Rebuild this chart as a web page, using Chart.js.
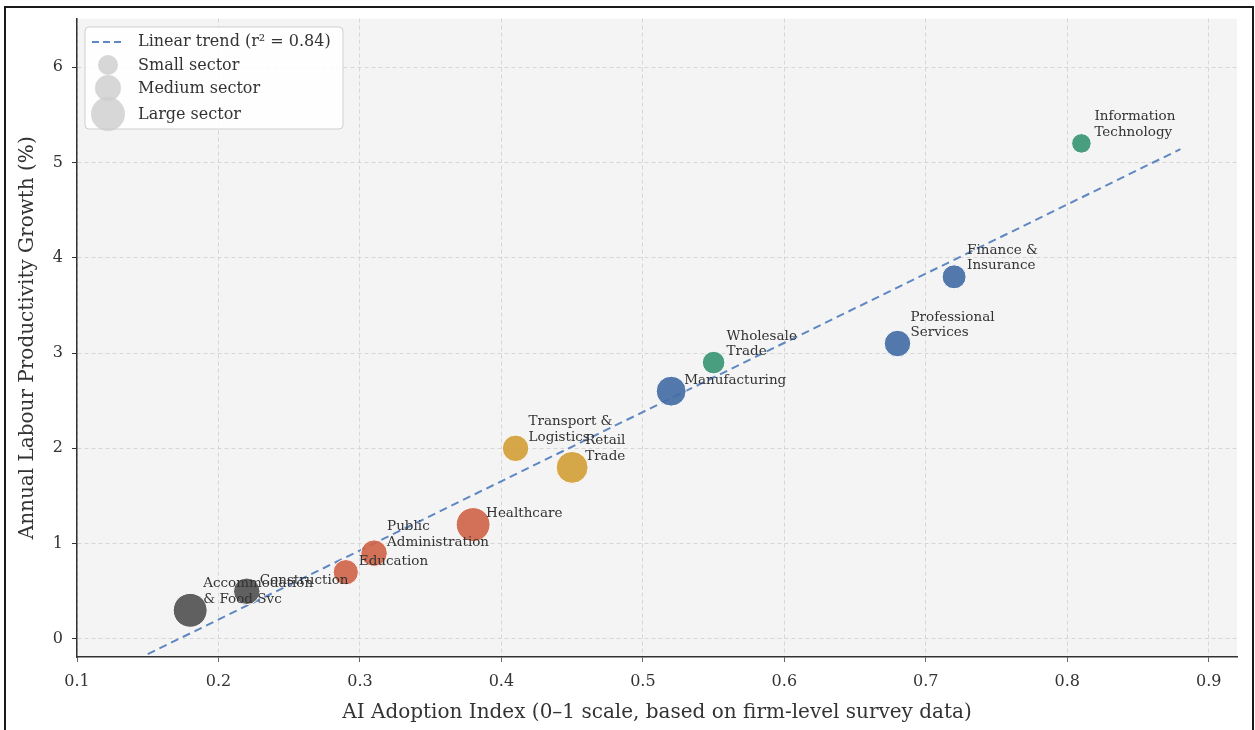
<!DOCTYPE html>
<html>
<head>
<meta charset="utf-8">
<script src="https://cdn.jsdelivr.net/npm/chart.js@4.4.1/dist/chart.umd.min.js"></script>
<style>
  html, body { margin: 0; padding: 0; background: #fff; }
  #wrap { width: 1255px; height: 730px; }
</style>
</head>
<body>
<div id="wrap"><canvas id="chart" width="1255" height="730"></canvas></div>
<script>
// sector data
var sectors    = ['Information\nTechnology', 'Finance &\nInsurance', 'Professional\nServices', 'Wholesale\nTrade',
                  'Manufacturing', 'Transport &\nLogistics', 'Retail\nTrade', 'Healthcare',
                  'Public\nAdministration', 'Education', 'Construction', 'Accommodation\n& Food Svc'];
var adoption   = [0.81, 0.72, 0.68, 0.55, 0.52, 0.41, 0.45, 0.38, 0.31, 0.29, 0.22, 0.18];
var growth     = [5.2, 3.8, 3.1, 2.9, 2.6, 2.0, 1.8, 1.2, 0.9, 0.7, 0.5, 0.3];
var workforce  = [6, 9, 11, 8, 14, 11, 16, 18, 11, 10, 11, 18];   // relative sector size
var group      = ['tech', 'fin', 'fin', 'tech', 'fin', 'trade', 'trade', 'public', 'public', 'public', 'other', 'other'];

// trend line end points
var trendX = [0.15, 0.88];
var trendY = [-0.16, 5.14];
var trendLabel = 'Linear trend (r\u00b2 = 0.84)';
var sizeLabels = ['Small sector', 'Medium sector', 'Large sector'];

var xTicks = [0.1, 0.2, 0.3, 0.4, 0.5, 0.6, 0.7, 0.8, 0.9];
var yTicks = [0, 1, 2, 3, 4, 5, 6];

var groupColors = {
    tech:   'rgba(58,150,117,0.92)',
    fin:    'rgba(68,109,164,0.92)',
    trade:  'rgba(210,160,58,0.92)',
    public: 'rgba(206,100,74,0.92)',
    other:  'rgba(82,82,82,0.92)'
};
var trendColor = '#5f87c2';
var FONT = "'DejaVu Serif', serif";

Chart.defaults.font.family = FONT;
Chart.defaults.color = '#333';

var bubbles = adoption.map(function(a, i){
    return { x: a, y: growth[i], r: 4 * Math.sqrt(workforce[i]) };
});

var bgPlugin = {
    id: 'bg',
    beforeDraw: function(chart){
        var ctx = chart.ctx, a = chart.chartArea;
        ctx.save();
        ctx.fillStyle = '#fff';
        ctx.fillRect(0, 0, chart.width, chart.height);
        ctx.fillStyle = '#f4f4f4';
        ctx.fillRect(a.left, a.top, a.right - a.left, a.bottom - a.top);
        ctx.restore();
    },
    afterDraw: function(chart){
        var ctx = chart.ctx;
        ctx.save();
        ctx.strokeStyle = '#1a1a1a';
        ctx.lineWidth = 2;
        ctx.strokeRect(5, 7, 1248, 800);
        ctx.restore();
    }
};

var labelPlugin = {
    id: 'sectorLabels',
    afterDatasetsDraw: function(chart){
        var ctx = chart.ctx;
        var meta = chart.getDatasetMeta(1);
        ctx.save();
        ctx.font = '13.5px ' + FONT;
        ctx.fillStyle = '#333';
        ctx.textAlign = 'left';
        ctx.textBaseline = 'middle';
        meta.data.forEach(function(pt, i){
            var lines = sectors[i].split('\n');
            for (var k = 0; k < lines.length; k++) {
                var yy = pt.y - 11 - (lines.length - 1 - k) * 15.5;
                ctx.fillText(lines[k], pt.x + 13, yy);
            }
        });
        ctx.restore();
    }
};

var legendPlugin = {
    id: 'customLegend',
    afterDraw: function(chart){
        var ctx = chart.ctx;
        ctx.save();
        ctx.beginPath();
        ctx.roundRect(85, 27, 258, 102, 4);
        ctx.fillStyle = 'rgba(255,255,255,0.85)';
        ctx.fill();
        ctx.strokeStyle = '#cfcfcf';
        ctx.lineWidth = 1;
        ctx.stroke();

        ctx.beginPath();
        ctx.setLineDash([7, 4]);
        ctx.strokeStyle = trendColor;
        ctx.lineWidth = 2;
        ctx.moveTo(92, 42);
        ctx.lineTo(121, 42);
        ctx.stroke();
        ctx.setLineDash([]);

        var rs = [10, 13, 17], cy = [65, 88, 114];
        ctx.fillStyle = 'rgba(205,205,205,0.8)';
        for (var i = 0; i < 3; i++) {
            ctx.beginPath();
            ctx.arc(108, cy[i], rs[i], 0, Math.PI * 2);
            ctx.fill();
        }
        ctx.fillStyle = '#333';
        ctx.font = '16px ' + FONT;
        ctx.textBaseline = 'middle';
        ctx.fillText(trendLabel, 138, 42);
        for (var j = 0; j < 3; j++) ctx.fillText(sizeLabels[j], 138, cy[j] + 1);
        ctx.restore();
    }
};

new Chart(document.getElementById('chart'), {
    type: 'bubble',
    data: {
        datasets: [{
            type: 'line',
            label: trendLabel,
            data: trendX.map(function(x, i){ return { x: x, y: trendY[i] }; }),
            borderColor: trendColor,
            borderWidth: 2,
            borderDash: [8, 5],
            pointRadius: 0,
            fill: false,
            order: 2
        }, {
            label: 'Sectors',
            data: bubbles,
            backgroundColor: group.map(function(g){ return groupColors[g]; }),
            borderColor: '#ffffff',
            borderWidth: 1,
            order: 1
        }]
    },
    plugins: [bgPlugin, labelPlugin, legendPlugin],
    options: {
        responsive: false,
        animation: false,
        layout: { padding: { left: 0, top: 18, right: 13, bottom: 0 } },
        plugins: { legend: { display: false }, tooltip: { enabled: false } },
        scales: {
            x: {
                type: 'linear',
                min: 0.1,
                max: 0.92,
                afterBuildTicks: function(s){ s.ticks = xTicks.map(function(v){ return { value: v }; }); },
                afterFit: function(s){ s.height = 73; },
                ticks: { font: { size: 16 }, color: '#333', padding: 10,
                         callback: function(v){ return v.toFixed(1); } },
                grid: { color: '#d6d6d6', tickLength: 5,
                        tickColor: '#333', tickBorderDash: [1, 0] },
                border: { display: true, color: '#333', width: 1.5, dash: [4, 3] },
                title: { display: true, text: 'AI Adoption Index (0\u20131 scale, based on firm-level survey data)',
                         font: { size: 20 }, color: '#333', padding: { top: 0, bottom: 5 } }
            },
            y: {
                type: 'linear',
                min: -0.19,
                max: 6.51,
                afterBuildTicks: function(s){ s.ticks = yTicks.map(function(v){ return { value: v }; }); },
                afterFit: function(s){ s.width = 77; },
                ticks: { font: { size: 16 }, color: '#333', padding: 9 },
                grid: { color: '#d6d6d6', tickLength: 5,
                        tickColor: '#333', tickBorderDash: [1, 0] },
                border: { display: true, color: '#333', width: 1.5, dash: [4, 3] },
                title: { display: true, text: 'Annual Labour Productivity Growth (%)',
                         font: { size: 20 }, color: '#333', padding: { top: 16, bottom: 0 } }
            }
        }
    }
});
</script>
</body>
</html>
